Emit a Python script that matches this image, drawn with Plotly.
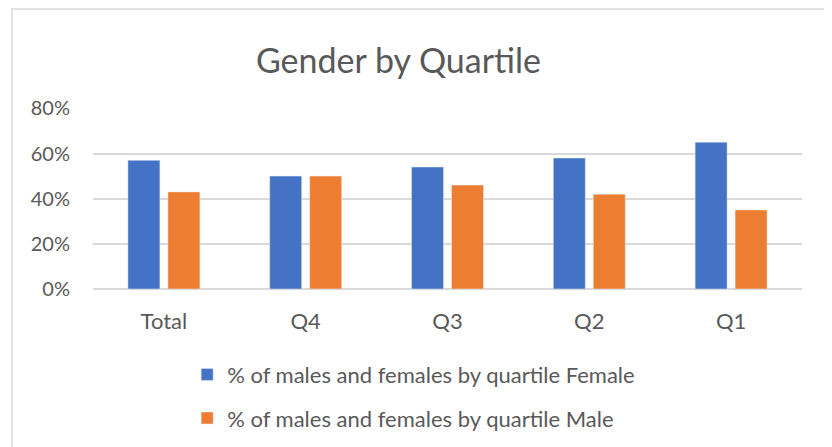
import plotly.graph_objects as go

categories = ["Total", "Q4", "Q3", "Q2", "Q1"]
female = [0.57, 0.50, 0.54, 0.58, 0.65]
male = [0.43, 0.50, 0.46, 0.42, 0.35]
series_names = ["% of males and females by quartile Female",
                "% of males and females by quartile Male"]
colors = ["#4472C4", "#ED7D31"]

FONT = "Lato"
TXT = "#595959"
GRID = "#d9d9d9"

W, H = 824, 439  # page body has an 8px margin
L, R, T, B = 85, 30, 100, 158
PW, PH = W - L - R, H - T - B

fig = go.Figure()
fig.add_trace(go.Bar(x=categories, y=female, name=series_names[0],
                     marker_color=colors[0], legendgroup="f"))
fig.add_trace(go.Bar(x=categories, y=male, name=series_names[1],
                     marker_color=colors[1], legendgroup="m"))

fig.update_layout(
    width=W, height=H,
    margin=dict(l=L, r=R, t=T, b=B, autoexpand=False),
    paper_bgcolor="white", plot_bgcolor="white",
    barmode="group", bargap=0.436, bargroupgap=0.2,
    font=dict(family=FONT, color=TXT, size=20),
    title=dict(text="Gender by Quartile", x=390.5 / W, xref="container", xanchor="center",
               y=1 - 53 / H, yref="container", yanchor="middle",
               font=dict(family=FONT, size=34, color=TXT)),
    showlegend=True,
    legend=dict(orientation="v", x=0.1328, xanchor="left", y=-0.357, yanchor="top",
                font=dict(family=FONT, size=22, color=TXT), tracegroupgap=12,
                bgcolor="rgba(0,0,0,0)"),
    xaxis=dict(showgrid=False, showline=False, zeroline=False, ticks="",
               ticklabelstandoff=17, tickfont=dict(size=22, color=TXT)),
    yaxis=dict(range=[0, 0.8015], dtick=0.2, tick0=0, tickformat=".0%",
               showgrid=True, gridcolor=GRID, gridwidth=1.5,
               zeroline=True, zerolinecolor=GRID, zerolinewidth=1.5,
               showline=False, ticks="", ticklabelstandoff=22,
               tickfont=dict(size=20, color=TXT)),
    shapes=[dict(type="rect", xref="paper", yref="paper",
                 x0=(4 - L) / PW, x1=(821.5 - L) / PW,
                 y0=(T + PH - 460) / PH, y1=(T + PH - 1) / PH,
                 line=dict(color=GRID, width=1.5), fillcolor="rgba(0,0,0,0)",
                 layer="below")],
)

fig.write_html("out.html")
